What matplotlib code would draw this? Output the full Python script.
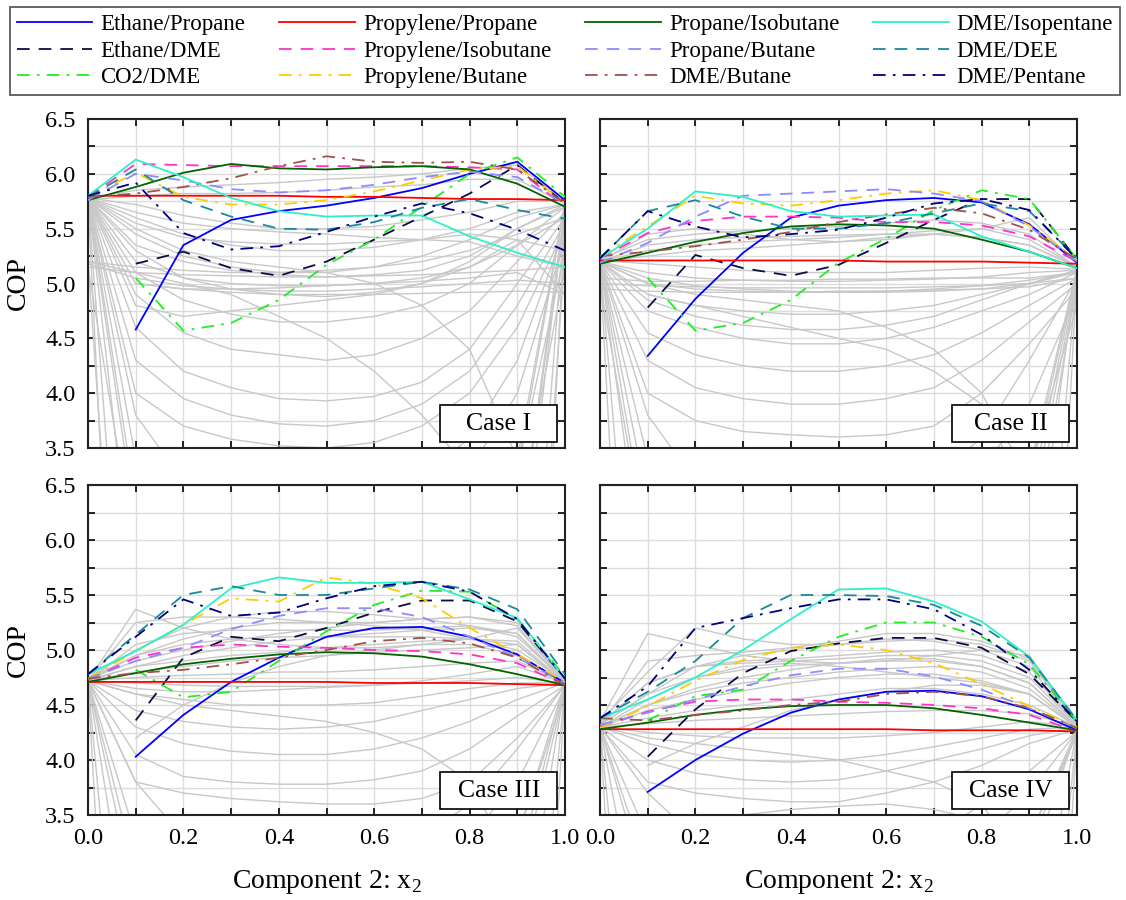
import numpy as np
import matplotlib
matplotlib.use("Agg")
import matplotlib.pyplot as plt
from matplotlib.patches import Rectangle

plt.rcParams['font.family'] = ['Liberation Serif', 'DejaVu Serif']
plt.rcParams['mathtext.fontset'] = 'custom'
plt.rcParams['mathtext.rm'] = 'Liberation Serif'

nan = np.nan
x_frac = [0.0, 0.1, 0.2, 0.3, 0.4, 0.5, 0.6, 0.7, 0.8, 0.9, 1.0]

case_names = ['Case I', 'Case II', 'Case III', 'Case IV']

mix_names = ['Ethane/Propane', 'Ethane/DME', 'CO2/DME',
             'Propylene/Propane', 'Propylene/Isobutane', 'Propylene/Butane',
             'Propane/Isobutane', 'Propane/Butane', 'DME/Butane',
             'DME/Isopentane', 'DME/DEE', 'DME/Pentane']

# COP of the highlighted mixtures, one list per case, same order as mix_names
cop_case1 = [
    [nan, 4.58, 5.35, 5.58, 5.66, 5.71, 5.78, 5.87, 6.00, 6.11, 5.76],
    [nan, 5.18, 5.29, 5.14, 5.07, 5.20, 5.40, 5.61, 5.82, 6.08, 5.73],
    [nan, 5.05, 4.57, 4.64, 4.85, 5.17, 5.40, 5.70, 6.00, 6.15, 5.79],
    [5.80, 5.80, 5.80, 5.80, 5.80, 5.79, 5.79, 5.78, 5.77, 5.77, 5.76],
    [5.79, 6.09, 6.08, 6.07, 6.07, 6.07, 6.07, 6.07, 6.06, 6.04, 5.70],
    [5.79, 6.01, 5.79, 5.72, 5.72, 5.76, 5.84, 5.94, 6.04, 6.07, 5.73],
    [5.76, 5.88, 6.01, 6.09, 6.05, 6.04, 6.06, 6.07, 6.04, 5.91, 5.70],
    [5.76, 6.00, 5.94, 5.86, 5.83, 5.85, 5.90, 5.97, 6.02, 5.97, 5.73],
    [5.79, 5.82, 5.88, 5.96, 6.07, 6.16, 6.11, 6.10, 6.11, 6.04, 5.73],
    [5.80, 6.13, 5.97, 5.78, 5.66, 5.61, 5.62, 5.62, 5.43, 5.28, 5.15],
    [5.79, 6.04, 5.76, 5.61, 5.50, 5.49, 5.56, 5.69, 5.77, 5.67, 5.59],
    [5.80, 5.92, 5.46, 5.31, 5.34, 5.47, 5.61, 5.73, 5.64, 5.49, 5.30],
]
cop_case2 = [
    [nan, 4.34, 4.86, 5.28, 5.60, 5.71, 5.76, 5.78, 5.74, 5.54, 5.19],
    [nan, 4.78, 5.26, 5.14, 5.07, 5.17, 5.37, 5.58, 5.77, 5.77, 5.22],
    [nan, 5.05, 4.57, 4.64, 4.85, 5.19, 5.41, 5.67, 5.85, 5.77, 5.22],
    [5.21, 5.21, 5.21, 5.21, 5.21, 5.21, 5.20, 5.20, 5.20, 5.19, 5.18],
    [5.23, 5.46, 5.57, 5.61, 5.61, 5.60, 5.56, 5.56, 5.53, 5.43, 5.20],
    [5.25, 5.52, 5.80, 5.73, 5.71, 5.76, 5.82, 5.85, 5.76, 5.53, 5.22],
    [5.18, 5.28, 5.38, 5.46, 5.52, 5.54, 5.53, 5.50, 5.40, 5.29, 5.14],
    [5.19, 5.37, 5.61, 5.80, 5.82, 5.84, 5.86, 5.82, 5.75, 5.52, 5.20],
    [5.25, 5.29, 5.34, 5.40, 5.47, 5.56, 5.63, 5.69, 5.64, 5.49, 5.22],
    [5.23, 5.50, 5.84, 5.79, 5.66, 5.61, 5.62, 5.63, 5.43, 5.29, 5.14],
    [5.23, 5.66, 5.76, 5.61, 5.50, 5.50, 5.55, 5.64, 5.73, 5.66, 5.23],
    [5.23, 5.66, 5.52, 5.42, 5.45, 5.49, 5.60, 5.73, 5.77, 5.67, 5.22],
]
cop_case3 = [
    [nan, 4.03, 4.41, 4.71, 4.93, 5.12, 5.20, 5.21, 5.12, 4.96, 4.70],
    [nan, 4.36, 4.93, 5.12, 5.08, 5.20, 5.34, 5.45, 5.45, 5.26, 4.74],
    [nan, 4.82, 4.57, 4.62, 4.90, 5.17, 5.41, 5.54, 5.53, 5.28, 4.76],
    [4.71, 4.71, 4.71, 4.71, 4.71, 4.71, 4.70, 4.70, 4.70, 4.69, 4.68],
    [4.73, 4.93, 5.02, 5.05, 5.03, 5.02, 5.00, 4.99, 4.96, 4.88, 4.68],
    [4.74, 4.99, 5.23, 5.47, 5.44, 5.66, 5.60, 5.47, 5.20, 4.96, 4.71],
    [4.71, 4.79, 4.87, 4.92, 4.96, 4.98, 4.97, 4.94, 4.87, 4.78, 4.68],
    [4.74, 4.90, 5.02, 5.19, 5.31, 5.38, 5.38, 5.30, 5.12, 4.93, 4.70],
    [4.74, 4.79, 4.82, 4.87, 4.93, 5.00, 5.08, 5.11, 5.06, 4.93, 4.68],
    [4.78, 4.99, 5.23, 5.56, 5.66, 5.61, 5.61, 5.62, 5.46, 5.29, 4.74],
    [4.78, 5.14, 5.50, 5.58, 5.50, 5.50, 5.56, 5.62, 5.55, 5.37, 4.78],
    [4.78, 5.12, 5.46, 5.31, 5.34, 5.47, 5.58, 5.62, 5.53, 5.28, 4.74],
]
cop_case4 = [
    [nan, 3.71, 4.00, 4.24, 4.43, 4.55, 4.62, 4.63, 4.58, 4.46, 4.27],
    [nan, 4.03, 4.46, 4.79, 4.99, 5.06, 5.11, 5.11, 5.02, 4.78, 4.35],
    [nan, 4.36, 4.58, 4.64, 4.90, 5.12, 5.25, 5.25, 5.12, 4.87, 4.35],
    [4.28, 4.28, 4.28, 4.28, 4.28, 4.28, 4.28, 4.27, 4.27, 4.27, 4.26],
    [4.30, 4.44, 4.53, 4.55, 4.55, 4.53, 4.52, 4.50, 4.47, 4.41, 4.26],
    [4.29, 4.49, 4.72, 4.91, 5.02, 5.05, 5.00, 4.88, 4.69, 4.49, 4.30],
    [4.28, 4.34, 4.41, 4.46, 4.49, 4.50, 4.50, 4.47, 4.41, 4.34, 4.27],
    [4.32, 4.43, 4.55, 4.67, 4.77, 4.83, 4.83, 4.76, 4.64, 4.47, 4.29],
    [4.38, 4.36, 4.41, 4.45, 4.50, 4.53, 4.60, 4.62, 4.58, 4.47, 4.29],
    [4.38, 4.55, 4.75, 5.00, 5.28, 5.55, 5.56, 5.44, 5.26, 4.94, 4.36],
    [4.38, 4.62, 4.90, 5.29, 5.50, 5.50, 5.49, 5.41, 5.22, 4.93, 4.36],
    [4.38, 4.67, 5.20, 5.29, 5.38, 5.46, 5.46, 5.37, 5.14, 4.82, 4.35],
]

# all the other mixtures (grey background), many run off the bottom
grey_case1 = [
    [5.78, 5.72, 5.62, 5.55, 5.50, 5.50, 5.52, 5.58, 5.65, 5.75, 5.75],
    [5.78, 5.60, 5.45, 5.35, 5.30, 5.30, 5.33, 5.40, 5.50, 5.65, 5.72],
    [5.78, 5.45, 5.25, 5.15, 5.10, 5.10, 5.15, 5.25, 5.40, 5.60, 5.72],
    [5.78, 5.30, 5.05, 4.95, 4.90, 4.88, 4.92, 5.00, 5.20, 5.50, 5.70],
    [5.78, 5.10, 4.85, 4.72, 4.65, 4.65, 4.70, 4.80, 5.00, 5.35, 5.70],
    [5.78, 4.90, 4.55, 4.40, 4.35, 4.30, 4.35, 4.50, 4.75, 5.20, 5.65],
    [5.78, 4.60, 4.20, 4.05, 3.95, 3.93, 3.97, 4.10, 4.40, 5.00, 5.60],
    [5.78, 4.30, 3.95, 3.80, 3.72, 3.70, 3.75, 3.90, 4.20, 4.80, 5.55],
    [5.78, 4.00, 3.70, 3.58, 3.52, 3.50, 3.55, 3.70, 4.00, 4.60, 5.50],
    [5.78, 3.40, 2.90, 2.70, 2.60, 2.60, 2.70, 2.90, 3.30, 4.00, 5.40],
    [5.75, 2.80, 2.30, 2.10, 2.00, 2.00, 2.10, 2.30, 2.70, 3.30, 5.30],
    [5.15, 5.10, 5.08, 5.07, 5.06, 5.06, 5.07, 5.08, 5.10, 5.12, 5.15],
    [5.18, 5.05, 4.98, 4.95, 4.93, 4.93, 4.95, 4.97, 5.00, 5.03, 5.00],
    [nan, 5.00, 4.95, 4.92, 4.90, 4.90, 4.90, 4.91, 4.92, 4.93, 4.92],
    [5.78, 5.55, 5.42, 5.38, 5.36, 5.36, 5.38, 5.40, 5.45, 5.40, 5.30],
    [5.78, 5.65, 5.55, 5.50, 5.47, 5.45, 5.42, 5.40, 5.38, 5.25, 5.15],
    [5.78, 5.85, 5.88, 5.90, 5.92, 5.95, 5.97, 6.00, 6.05, 6.08, 5.75],
    [5.76, 5.80, 5.82, 5.82, 5.83, 5.85, 5.88, 5.90, 5.95, 5.95, 5.73],
    [5.20, 5.10, 5.00, 4.90, 4.70, 4.50, 4.20, 3.80, 3.30, 2.50, 5.70],
    [5.78, 5.50, 5.30, 5.20, 5.15, 5.10, 5.00, 4.80, 4.40, 3.40, 5.75],
    [nan, 3.00, 3.30, 3.40, 3.45, 3.50, 3.45, 3.30, 3.00, 2.50, 5.60],
    [5.78, 4.80, 4.70, 4.75, 4.80, 4.85, 4.90, 5.00, 5.15, 5.40, 4.90],
    [5.78, 3.00, 2.60, 2.50, 2.50, 2.50, 2.50, 2.60, 2.80, 3.30, 5.72],
    [5.78, 2.00, 1.60, 1.50, 1.50, 1.50, 1.50, 1.60, 1.80, 2.00, 5.70],
    [5.77, 0.00, -0.5, -0.5, -0.5, -0.5, -0.5, -0.5, -0.3, 0.00, 5.66],
    [5.76, -3.0, -3.5, -3.5, -3.5, -3.5, -3.5, -3.5, -3.2, -3.0, 5.62],
    [5.20, -1.0, -1.5, -1.5, -1.5, -1.5, -1.5, -1.5, -1.2, -1.0, 5.30],
    [5.78, 3.80, 3.20, 3.00, 2.90, 2.90, 3.00, 3.20, 3.60, 4.30, 5.50],
    [5.15, 2.50, 2.00, 2.00, 2.00, 2.00, 2.00, 2.00, 2.20, 2.80, 5.15],
    [5.78, 5.20, 5.05, 5.00, 4.98, 4.98, 5.00, 5.05, 5.15, 5.35, 5.60],
    [5.78, 5.35, 5.20, 5.12, 5.08, 5.06, 5.08, 5.12, 5.25, 5.50, 5.72],
    [5.20, 5.15, 5.12, 5.10, 5.10, 5.12, 5.15, 5.20, 5.30, 5.45, 5.60],
    [5.78, 5.00, 4.95, 4.95, 4.96, 4.98, 5.00, 5.02, 5.05, 5.10, 4.90],
]
grey_case2 = [
    [5.21, 5.18, 5.15, 5.12, 5.10, 5.10, 5.10, 5.12, 5.14, 5.15, 5.13],
    [5.20, 5.10, 5.05, 5.03, 5.02, 5.02, 5.03, 5.04, 5.06, 5.10, 5.12],
    [5.20, 5.00, 4.95, 4.93, 4.92, 4.92, 4.93, 4.95, 4.98, 5.03, 5.10],
    [5.20, 4.90, 4.80, 4.75, 4.72, 4.72, 4.75, 4.80, 4.90, 5.00, 5.10],
    [5.20, 4.75, 4.60, 4.50, 4.45, 4.45, 4.50, 4.60, 4.75, 4.90, 5.10],
    [5.20, 4.55, 4.35, 4.25, 4.20, 4.20, 4.25, 4.35, 4.55, 4.80, 5.05],
    [5.20, 4.30, 4.05, 3.95, 3.90, 3.90, 3.95, 4.05, 4.30, 4.65, 5.00],
    [5.20, 4.00, 3.75, 3.65, 3.62, 3.60, 3.62, 3.70, 4.00, 4.45, 4.95],
    [5.20, 3.40, 3.00, 2.90, 2.80, 2.80, 2.90, 3.00, 3.30, 3.90, 4.90],
    [5.20, 2.60, 2.20, 2.00, 1.90, 1.90, 2.00, 2.20, 2.60, 3.30, 4.80],
    [5.20, 5.30, 5.35, 5.38, 5.40, 5.42, 5.45, 5.48, 5.50, 5.40, 5.15],
    [5.22, 5.40, 5.45, 5.48, 5.50, 5.52, 5.55, 5.58, 5.55, 5.45, 5.15],
    [5.20, 5.45, 5.50, 5.45, 5.40, 5.38, 5.40, 5.45, 5.50, 5.60, 5.18],
    [5.05, 5.02, 5.02, 5.03, 5.03, 5.04, 5.04, 5.05, 5.05, 5.05, 5.10],
    [5.00, 4.98, 4.97, 4.96, 4.96, 4.96, 4.96, 4.97, 4.98, 5.00, 5.05],
    [5.20, 5.00, 4.90, 4.85, 4.80, 4.75, 4.60, 4.40, 4.00, 3.20, 5.12],
    [nan, 4.90, 4.80, 4.70, 4.60, 4.50, 4.40, 4.20, 3.90, 3.00, 5.10],
    [nan, 3.00, 3.30, 3.40, 3.45, 3.50, 3.45, 3.30, 3.00, 2.50, 5.00],
    [5.20, 5.25, 5.30, 5.32, 5.35, 5.38, 5.42, 5.45, 5.42, 5.35, 5.15],
    [4.95, 4.93, 4.92, 4.92, 4.92, 4.93, 4.93, 4.94, 4.95, 4.97, 5.05],
    [5.21, 3.00, 2.60, 2.50, 2.50, 2.50, 2.50, 2.60, 2.80, 3.30, 5.14],
    [5.20, 2.00, 1.60, 1.50, 1.50, 1.50, 1.50, 1.60, 1.80, 2.00, 5.13],
    [5.20, 0.00, -0.5, -0.5, -0.5, -0.5, -0.5, -0.5, -0.3, 0.00, 5.12],
    [5.19, -3.0, -3.5, -3.5, -3.5, -3.5, -3.5, -3.5, -3.2, -3.0, 5.10],
    [5.20, 3.80, 3.20, 3.00, 2.90, 2.90, 3.00, 3.20, 3.60, 4.30, 5.05],
    [5.00, 2.50, 2.00, 2.00, 2.00, 2.00, 2.00, 2.00, 2.20, 2.80, 5.05],
    [5.20, 4.85, 4.70, 4.62, 4.58, 4.58, 4.62, 4.70, 4.85, 5.00, 5.12],
    [5.20, 5.05, 4.98, 4.95, 4.93, 4.92, 4.92, 4.93, 4.95, 5.00, 5.12],
    [5.20, 5.35, 5.40, 5.42, 5.43, 5.44, 5.45, 5.45, 5.42, 5.35, 5.15],
]
grey_case3 = [
    [4.72, 5.37, 5.20, 5.10, 5.05, 5.02, 5.02, 5.05, 5.10, 5.20, 4.72],
    [4.72, 5.25, 5.30, 5.30, 5.28, 5.25, 5.25, 5.28, 5.30, 5.25, 4.72],
    [4.74, 4.90, 5.00, 5.08, 5.15, 5.20, 5.25, 5.28, 5.30, 5.22, 4.72],
    [4.73, 4.85, 4.95, 5.02, 5.08, 5.12, 5.15, 5.18, 5.20, 5.15, 4.70],
    [4.72, 4.80, 4.85, 4.90, 4.93, 4.95, 4.98, 5.00, 5.02, 5.05, 4.70],
    [4.72, 4.75, 4.77, 4.78, 4.80, 4.80, 4.82, 4.85, 4.88, 4.90, 4.70],
    [4.72, 4.70, 4.68, 4.67, 4.67, 4.67, 4.68, 4.70, 4.72, 4.75, 4.70],
    [4.72, 4.60, 4.55, 4.50, 4.50, 4.50, 4.52, 4.58, 4.65, 4.70, 4.70],
    [4.72, 4.45, 4.35, 4.30, 4.28, 4.30, 4.35, 4.45, 4.55, 4.65, 4.70],
    [4.72, 4.30, 4.15, 4.08, 4.05, 4.05, 4.10, 4.20, 4.35, 4.55, 4.70],
    [4.72, 4.05, 3.85, 3.80, 3.78, 3.78, 3.82, 3.90, 4.10, 4.40, 4.68],
    [4.72, 3.80, 3.70, 3.65, 3.62, 3.60, 3.60, 3.65, 3.80, 4.20, 4.68],
    [4.72, 3.30, 3.00, 2.90, 2.85, 2.85, 2.90, 3.00, 3.30, 3.80, 4.66],
    [4.72, 2.70, 2.30, 2.10, 2.00, 2.00, 2.10, 2.30, 2.70, 3.30, 4.62],
    [4.72, 4.60, 4.50, 4.45, 4.40, 4.35, 4.25, 4.10, 3.80, 3.00, 4.70],
    [nan, 3.20, 3.35, 3.45, 3.50, 3.50, 3.45, 3.35, 3.20, 2.80, 4.65],
    [4.75, 5.00, 5.20, 5.30, 5.35, 5.35, 5.32, 5.28, 5.22, 5.12, 4.72],
    [4.74, 4.95, 5.10, 5.20, 5.25, 5.25, 5.22, 5.18, 5.10, 5.00, 4.72],
    [nan, 4.20, 4.50, 4.70, 4.85, 4.95, 5.00, 5.05, 5.05, 4.95, 4.70],
    [4.72, 4.65, 4.62, 4.62, 4.64, 4.66, 4.68, 4.72, 4.78, 4.85, 4.70],
    [4.72, 3.00, 2.60, 2.50, 2.50, 2.50, 2.50, 2.60, 2.80, 3.30, 4.70],
    [4.72, 2.00, 1.60, 1.50, 1.50, 1.50, 1.50, 1.60, 1.80, 2.00, 4.69],
    [4.72, 0.00, -0.5, -0.5, -0.5, -0.5, -0.5, -0.5, -0.3, 0.00, 4.68],
    [4.71, -3.0, -3.5, -3.5, -3.5, -3.5, -3.5, -3.5, -3.2, -3.0, 4.66],
    [4.72, 3.80, 3.30, 3.10, 3.00, 3.00, 3.10, 3.30, 3.60, 4.10, 4.68],
    [4.72, 4.95, 5.05, 5.10, 5.12, 5.12, 5.12, 5.12, 5.10, 5.05, 4.70],
    [4.72, 5.05, 5.15, 5.18, 5.18, 5.18, 5.18, 5.20, 5.22, 5.15, 4.72],
    [4.72, 4.85, 4.90, 4.95, 4.98, 5.02, 5.05, 5.08, 5.10, 5.08, 4.70],
]
grey_case4 = [
    [4.35, 5.15, 5.05, 4.95, 4.90, 4.88, 4.90, 4.95, 5.00, 4.95, 4.33],
    [4.35, 4.80, 5.20, 5.10, 5.05, 5.05, 5.08, 5.10, 5.05, 4.90, 4.33],
    [4.32, 4.90, 4.95, 4.98, 5.02, 5.08, 5.15, 5.15, 5.08, 4.92, 4.33],
    [4.32, 4.60, 4.85, 4.95, 5.00, 5.05, 5.10, 5.08, 5.00, 4.85, 4.32],
    [4.30, 4.50, 4.65, 4.75, 4.82, 4.88, 4.92, 4.92, 4.85, 4.70, 4.30],
    [4.30, 4.45, 4.55, 4.63, 4.70, 4.75, 4.78, 4.78, 4.72, 4.60, 4.30],
    [4.30, 4.38, 4.45, 4.50, 4.55, 4.60, 4.65, 4.65, 4.60, 4.50, 4.30],
    [4.30, 4.33, 4.36, 4.38, 4.40, 4.42, 4.44, 4.45, 4.45, 4.42, 4.30],
    [4.30, 4.25, 4.22, 4.20, 4.20, 4.20, 4.22, 4.25, 4.30, 4.35, 4.30],
    [4.30, 4.15, 4.05, 4.00, 3.98, 4.00, 4.05, 4.12, 4.20, 4.28, 4.30],
    [4.30, 4.00, 3.88, 3.82, 3.80, 3.82, 3.90, 4.00, 4.10, 4.22, 4.30],
    [4.30, 3.80, 3.70, 3.65, 3.62, 3.62, 3.70, 3.80, 3.95, 4.15, 4.28],
    [4.30, 3.30, 3.10, 3.00, 2.95, 2.95, 3.00, 3.10, 3.30, 3.70, 4.26],
    [4.30, 2.80, 2.40, 2.20, 2.10, 2.10, 2.20, 2.40, 2.80, 3.30, 4.24],
    [4.30, 4.20, 4.15, 4.10, 4.05, 4.00, 3.90, 3.80, 3.60, 3.00, 4.28],
    [nan, 3.30, 3.40, 3.50, 3.55, 3.58, 3.60, 3.55, 3.45, 3.20, 4.25],
    [4.33, 4.70, 4.85, 4.90, 4.92, 4.95, 4.98, 5.00, 4.95, 4.80, 4.32],
    [nan, 3.95, 4.15, 4.30, 4.45, 4.55, 4.62, 4.68, 4.68, 4.60, 4.30],
    [4.30, 4.55, 4.75, 4.85, 4.88, 4.85, 4.80, 4.75, 4.70, 4.60, 4.30],
    [4.30, 3.00, 2.60, 2.50, 2.50, 2.50, 2.50, 2.60, 2.80, 3.30, 4.28],
    [4.30, 2.00, 1.60, 1.50, 1.50, 1.50, 1.50, 1.60, 1.80, 2.00, 4.27],
    [4.30, 0.00, -0.5, -0.5, -0.5, -0.5, -0.5, -0.5, -0.3, 0.00, 4.26],
    [4.30, -3.0, -3.5, -3.5, -3.5, -3.5, -3.5, -3.5, -3.2, -3.0, 4.25],
    [4.30, 3.70, 3.30, 3.10, 3.00, 3.00, 3.10, 3.30, 3.60, 3.90, 4.26],
    [4.32, 4.70, 4.85, 4.88, 4.90, 4.92, 4.95, 4.95, 4.90, 4.75, 4.32],
    [4.32, 4.60, 4.75, 4.82, 4.86, 4.88, 4.90, 4.90, 4.85, 4.70, 4.31],
    [4.30, 4.50, 4.62, 4.70, 4.75, 4.80, 4.83, 4.85, 4.80, 4.65, 4.30],
]

mix_colors = ['#0000ff', '#0d0d45', '#22ee22',
              '#ff0000', '#ff33cc', '#ffcc00',
              '#006400', '#8c8cff', '#a0524b',
              '#2ef0c8', '#1a8a99', '#000080']
solid = None
dash = (7, 5)
dashdot = (7, 4, 1.5, 4)
mix_dashes = [solid, dash, dashdot] * 4

fig = plt.figure(figsize=(11.26, 9), dpi=100)
W, H = 1126, 900
# pixel boxes (left, top, right, bottom) of the four panels
boxes = [(88, 119, 565, 448), (600, 119, 1077, 448),
         (88, 485, 565, 815), (600, 485, 1077, 815)]
all_cop = [cop_case1, cop_case2, cop_case3, cop_case4]
all_grey = [grey_case1, grey_case2, grey_case3, grey_case4]

handles = []
for k in range(4):
    l, t, r, b = boxes[k]
    ax = fig.add_axes([l / W, 1 - b / H, (r - l) / W, (b - t) / H])
    for g in all_grey[k]:
        ax.plot(x_frac, g, color='#c8c8c8', lw=1.0, zorder=1)
    for i, series in enumerate(all_cop[k]):
        line, = ax.plot(x_frac, series, color=mix_colors[i], lw=1.3, zorder=3)
        if mix_dashes[i] is not None:
            line.set_dashes(mix_dashes[i])
        if k == 0:
            handles.append(line)
    ax.set_xlim(0, 1)
    ax.set_ylim(3.5, 6.5)
    ax.set_xticks(np.arange(0, 1.01, 0.2))
    ax.set_xticks(np.arange(0.1, 1.0, 0.2), minor=True)
    ax.set_yticks(np.arange(3.5, 6.51, 0.5))
    ax.set_yticks(np.arange(3.75, 6.5, 0.5), minor=True)
    ax.grid(True, which='both', color='#dcdcdc', lw=1.0, zorder=0)
    ax.set_axisbelow(True)
    ax.tick_params(which='both', direction='in', top=True, right=True,
                   length=5, width=1.2, labelsize=17.5)
    ax.tick_params(axis='x', pad=9)
    ax.tick_params(axis='y', pad=9)
    for s in ax.spines.values():
        s.set_linewidth(1.5)
        s.set_color('#222222')
    if k % 2 == 0:
        ax.set_yticklabels(['%.1f' % v for v in np.arange(3.5, 6.51, 0.5)])
        ax.set_ylabel('COP', fontsize=20, labelpad=10)
    else:
        ax.set_yticklabels([])
    if k >= 2:
        ax.set_xticklabels(['%.1f' % v for v in np.arange(0, 1.01, 0.2)])
        ax.set_xlabel('Component 2: x$_{\\mathregular{2}}$', fontsize=20, labelpad=14)
    else:
        ax.set_xticklabels([])
    ax.add_patch(Rectangle((0.738, 0.017), 0.246, 0.114, transform=ax.transAxes,
                           facecolor='white', edgecolor='black', lw=1.2, zorder=5))
    ax.text(0.861, 0.074, case_names[k], transform=ax.transAxes, ha='center',
            va='center', fontsize=18.5, zorder=6)

leg = fig.legend(handles, mix_names, ncol=4, loc='upper left',
                 bbox_to_anchor=(10 / W, 1 - 97 / H, 1110 / W, 90 / H),
                 mode='expand', borderaxespad=0, fontsize=16.5, frameon=True,
                 fancybox=False, handlelength=3.3, handletextpad=0.35,
                 labelspacing=0.25, borderpad=0.3, columnspacing=0.8)
leg.get_frame().set_edgecolor('#333333')
leg.get_frame().set_linewidth(1.3)

fig.savefig('out.png', dpi=100)
